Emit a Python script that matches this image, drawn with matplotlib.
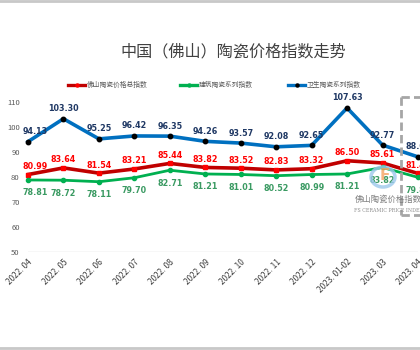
import matplotlib
matplotlib.use("Agg")
import matplotlib.pyplot as plt
from matplotlib.patches import Circle
from matplotlib.lines import Line2D

plt.rcParams['font.family'] = ['Noto Sans CJK SC', 'DejaVu Sans']

months = ["2022. 04", "2022. 05", "2022. 06", "2022. 07", "2022. 08", "2022. 09",
          "2022. 10", "2022. 11", "2022. 12", "2023. 01-02", "2023. 03", "2023. 04"]
total_idx = [80.99, 83.64, 81.54, 83.21, 85.44, 83.82, 83.52, 82.83, 83.32, 86.50, 85.61, 81.43]
building_idx = [78.81, 78.72, 78.11, 79.70, 82.71, 81.21, 81.01, 80.52, 80.99, 81.21, 83.82, 79.86]
sanitary_idx = [94.13, 103.30, 95.25, 96.42, 96.35, 94.26, 93.57, 92.08, 92.65, 107.63, 92.77, 88.05]
yticks = [50, 60, 70, 80, 90, 100, 110]

W, H = 420, 350
fig = plt.figure(figsize=(4.2, 3.5), dpi=100)
fig.patch.set_facecolor("white")

# plot area: 28..418 px wide, 102..252 px tall
ax = fig.add_axes([28 / W, (H - 252) / H, 390 / W, 150 / H])
ax.set_xlim(0, len(months) - 1)
ax.set_ylim(50, 110)
ax.set_facecolor("none")
for s in ax.spines.values():
    s.set_visible(False)
ax.axhline(50, color="#d9d9d9", lw=1.0, zorder=1)

x = list(range(len(months)))
ax.plot(x, sanitary_idx, color="#0070c0", lw=2.6, marker="o", ms=3.2,
        mfc="black", mec="black", zorder=3, clip_on=False)
ax.plot(x, total_idx, color="#c00000", lw=2.6, marker="s", ms=3.0,
        mfc="#ff0000", mec="#ff0000", zorder=3, clip_on=False)
ax.plot(x, building_idx, color="#00b050", lw=2.0, marker="o", ms=3.0,
        mfc="#00b050", mec="#00b050", zorder=3, clip_on=False)

# value labels
lab = dict(textcoords="offset pixels", ha="center", va="center", fontsize=5.8,
           fontweight="bold", family="DejaVu Sans", annotation_clip=False)
for i in x:
    dx = 7 if i == 0 else 0
    ax.annotate(f"{sanitary_idx[i]:.2f}", (i, sanitary_idx[i]), xytext=(dx, 10),
                color="#1f3864", **lab)
    ax.annotate(f"{total_idx[i]:.2f}", (i, total_idx[i]), xytext=(dx, 8),
                color="#ff0000", **lab)
    ax.annotate(f"{building_idx[i]:.2f}", (i, building_idx[i]), xytext=(dx, -13),
                color="#3a9a62", **lab)

ax.set_yticks(yticks)
ax.set_yticklabels([str(v) for v in yticks], fontsize=5.5, color="#595959")
ax.tick_params(axis="y", length=0, pad=6)
ax.set_xticks(x)
ax.set_xticklabels(months, rotation=45, ha="right", rotation_mode="anchor",
                   fontsize=6, color="#404040")
ax.tick_params(axis="x", length=0, pad=4)

# title
fig.text(233 / W, 1 - 52 / H, "中国（佛山）陶瓷价格指数走势", ha="center", va="center",
         fontsize=11.6, color="#404040")

# legend
legend_items = [(68, "#c00000", "#ff0000", "佛山陶瓷价格总指数"),
                (180, "#00b050", "#00b050", "建筑陶瓷系列指数"),
                (288, "#0070c0", "black", "卫生陶瓷系列指数")]
ly = 1 - 85 / H
for px, lc, mc, name in legend_items:
    fig.add_artist(Line2D([px / W, (px + 17) / W], [ly, ly], color=lc, lw=2.4))
    fig.add_artist(Line2D([(px + 8.5) / W], [ly], marker="o", ms=2.2, color=mc))
    fig.text((px + 19) / W, ly, name, ha="left", va="center", fontsize=4.9, color="#595959")

# dashed highlight box on the latest month
box = dict(color="#a6a6a6", lw=2.0, ls=(0, (3, 1.5)))
fig.add_artist(Line2D([401 / W, 401 / W], [1 - 97 / H, 1 - 215 / H], **box))
fig.add_artist(Line2D([401 / W, 421 / W], [1 - 97 / H, 1 - 97 / H], **box))
fig.add_artist(Line2D([401 / W, 421 / W], [1 - 215 / H, 1 - 215 / H], **box))

# watermark
fig.add_artist(Circle((383 / W, 1 - 177 / H), 12 / W, transform=fig.transFigure,
                      fill=False, ec="#9cc8ec", lw=2.5, alpha=0.8))
fig.text(385 / W, 1 - 176 / H, "F", ha="center", va="center", fontsize=11,
         fontweight="bold", color="#f4a460", alpha=0.8, family="DejaVu Sans")
fig.text(388 / W, 1 - 199 / H, "佛山陶瓷价格指数", ha="center", va="center",
         fontsize=6, color="#7f7f7f")
fig.text(388 / W, 1 - 211 / H, "FS CERAMIC PRICE INDEX", ha="center", va="center",
         fontsize=3.4, color="#8c8c8c", family="DejaVu Serif")

# thin frame lines at top and bottom
fig.add_artist(Line2D([0, 1], [1 - 1 / H, 1 - 1 / H], color="#c8c8c8", lw=2))
fig.add_artist(Line2D([0, 1], [1 - 348 / H, 1 - 348 / H], color="#c8c8c8", lw=2))

fig.savefig("out.png", dpi=100, facecolor="white")
